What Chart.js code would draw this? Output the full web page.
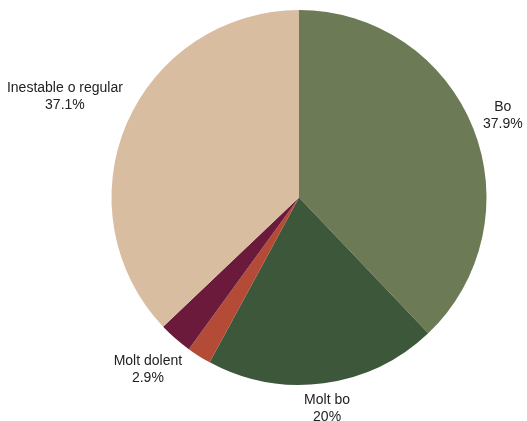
<!DOCTYPE html>
<html>
<head>
<meta charset="utf-8">
<script src="https://cdn.jsdelivr.net/npm/chart.js@4/dist/chart.umd.min.js"></script>
<style>
  html, body { margin: 0; padding: 0; background: #fff; }
  #wrap { width: 527px; height: 421px; }
</style>
</head>
<body>
<div id="wrap"><canvas id="pie" width="527" height="421"></canvas></div>
<script>
// Slices in clockwise order from 12 o'clock
const categories = ['Bo', 'Molt bo', 'Dolent', 'Molt dolent', 'Inestable o regular'];
const shares = [37.9, 20, 2.1, 2.9, 37.1];
const sliceColors = ['#6c7a55', '#3d573a', '#b44b37', '#6b1a3c', '#d9bda0'];

// Slices smaller than this get no outside label
const LABEL_MIN_SHARE = 2.5;

function formatShare(v) {
  return (Math.round(v * 10) / 10).toString() + '%';
}

// Two-line name / share labels placed just outside each slice, on its middle ray
const outsideLabels = {
  id: 'outsideLabels',
  afterDatasetsDraw(chart) {
    const ctx = chart.ctx;
    const meta = chart.getDatasetMeta(0);
    const values = chart.data.datasets[0].data;
    const lineH = 17;
    const gap = 8;
    ctx.save();
    ctx.font = '14px "Liberation Sans", Arial, sans-serif';
    ctx.fillStyle = '#222';
    ctx.textAlign = 'center';
    ctx.textBaseline = 'middle';
    meta.data.forEach((arc, i) => {
      if (values[i] < LABEL_MIN_SHARE) return;
      const p = arc.getProps(['x', 'y', 'startAngle', 'endAngle', 'outerRadius'], true);
      const mid = (p.startAngle + p.endAngle) / 2;
      const cx = Math.cos(mid), sy = Math.sin(mid);
      const lines = [chart.data.labels[i], formatShare(values[i])];
      const w = Math.max(...lines.map(t => ctx.measureText(t).width));
      const h = 30;
      const dist = p.outerRadius + gap + (w / 2) * Math.abs(cx) + (h / 2) * Math.abs(sy);
      const tx = p.x + dist * cx;
      const ty = p.y + dist * sy;
      ctx.fillText(lines[0], tx, ty - lineH / 2);
      ctx.fillText(lines[1], tx, ty + lineH / 2);
    });
    ctx.restore();
  }
};

new Chart(document.getElementById('pie'), {
  type: 'pie',
  data: {
    labels: categories,
    datasets: [{
      data: shares,
      backgroundColor: sliceColors,
      borderWidth: 0
    }]
  },
  options: {
    responsive: false,
    animation: false,
    layout: { padding: { top: 10, bottom: 36, left: 71, right: 0 } },
    plugins: {
      legend: { display: false },
      tooltip: { enabled: false }
    }
  },
  plugins: [outsideLabels]
});
</script>
</body>
</html>
